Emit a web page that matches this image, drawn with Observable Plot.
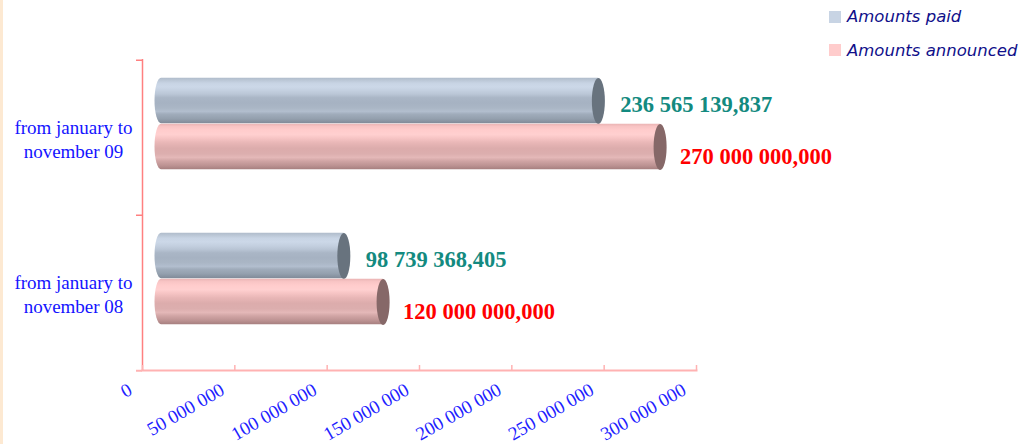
<!DOCTYPE html>
<html><head><meta charset="utf-8">
<script src="https://cdn.jsdelivr.net/npm/d3@7"></script>
<script src="https://cdn.jsdelivr.net/npm/@observablehq/plot@0.6"></script>
<style>
body{margin:0;background:#fff;overflow:hidden}
#wrap{position:relative;width:1024px;height:444px}
#strip{position:absolute;left:0;top:0;width:3px;height:444px;background:#fde9d2}
#legend{position:absolute;left:829px;top:0px;font:italic 16.5px "DejaVu Sans";color:#10108a}
.item{display:flex;align-items:center;height:33.5px}
.sw{width:12px;height:12px;margin-right:6px;flex:none}
#chart{position:absolute;left:0;top:0}
</style></head><body>
<div id="wrap"><div id="strip"></div><div id="chart"></div><div id="legend"></div></div>
<script>
const categories = ["from january to\nnovember 09", "from january to\nnovember 08"];
const seriesNames = ["Amounts paid", "Amounts announced"];
const seriesColors = ["#c8d4e4", "#ffcccc"];
const paid = [236565139.837, 98739368.405];
const announced = [270000000, 120000000];
const paidLabels = ["236 565 139,837", "98 739 368,405"];
const announcedLabels = ["270 000 000,000", "120 000 000,000"];
const xTicks = [0, 50e6, 100e6, 150e6, 200e6, 250e6, 300e6];
const xTickLabels = ["0", "50 000 000", "100 000 000", "150 000 000", "200 000 000", "250 000 000", "300 000 000"];

const paidData = categories.map((c, i) => ({category: c, value: paid[i], label: paidLabels[i]}));
const annData = categories.map((c, i) => ({category: c, value: announced[i], label: announcedLabels[i]}));

const bw = 155.5;
const ellipse = {
  draw(ctx) {
    const rx = 6.5, ry = 23, k = 0.5523;
    ctx.moveTo(rx, 0);
    ctx.bezierCurveTo(rx, ry * k, rx * k, ry, 0, ry);
    ctx.bezierCurveTo(-rx * k, ry, -rx, ry * k, -rx, 0);
    ctx.bezierCurveTo(-rx, -ry * k, -rx * k, -ry, 0, -ry);
    ctx.bezierCurveTo(rx * k, -ry, rx, -ry * k, rx, 0);
    ctx.closePath();
  }
};
const serif = "Liberation Serif";
const axisPink = "#ff8080";
const axisPinkLight = "#ffb2b2";

const plot = Plot.plot({
  width: 1024, height: 444,
  marginLeft: 142, marginRight: 328, marginTop: 59, marginBottom: 74,
  x: {domain: [0, 300e6], axis: null, label: null},
  y: {domain: categories, axis: null, padding: 0, label: null},
  marks: [
    Plot.frame({anchor: "bottom", stroke: axisPinkLight, strokeWidth: 2}),
    Plot.ruleX([0], {stroke: axisPink, strokeWidth: 1.5}),
    Plot.axisY({ticks: categories, tickSize: 6, text: null, label: null, stroke: axisPink, strokeWidth: 1.5, dy: -bw / 2}),
    Plot.axisY({ticks: [categories[1]], tickSize: 6, text: null, label: null, stroke: axisPinkLight, strokeWidth: 2, dy: bw / 2}),
    Plot.axisX({ticks: xTicks, tickSize: 5, text: null, label: null, stroke: axisPinkLight, strokeWidth: 1.5, dy: -5}),
    Plot.text(xTicks, {x: d => d, frameAnchor: "bottom", text: (d, i) => xTickLabels[i], rotate: -30, textAnchor: "end",
      dx: -9, dy: 23, fill: "#1f1fff", fontSize: 19, fontFamily: serif}),
    Plot.text(categories, {y: d => d, frameAnchor: "left", text: d => d, dx: -69, textAnchor: "middle", lineHeight: 1.26,
      fill: "#1414ff", fontSize: 19, fontFamily: serif}),
    Plot.barX(paidData, {x: "value", y: "category", fill: "url(#gPaid)", insetTop: bw / 2 - 46, insetBottom: bw / 2,
      insetLeft: -6.5, insetRight: -6.5, rx: 6.5, ry: 23, dx: 19, dy: -14}),
    Plot.dot(paidData, {x: "value", y: "category", symbol: ellipse, fill: "#68737e", stroke: "none", dx: 19, dy: -37}),
    Plot.barX(annData, {x: "value", y: "category", fill: "url(#gAnn)", insetTop: bw / 2, insetBottom: bw / 2 - 46,
      insetLeft: -6.5, insetRight: -6.5, rx: 6.5, ry: 23, dx: 19, dy: -14}),
    Plot.dot(annData, {x: "value", y: "category", symbol: ellipse, fill: "#866868", stroke: "none", dx: 19, dy: 9}),
    Plot.text(paidData, {x: "value", y: "category", text: "label", textAnchor: "start", dx: 41, dy: -33.5,
      fill: "#138a80", fontSize: 22.5, fontWeight: "bold", fontFamily: serif}),
    Plot.text(annData, {x: "value", y: "category", text: "label", textAnchor: "start", dx: 39, dy: 19,
      fill: "#ff0000", fontSize: 22.5, fontWeight: "bold", fontFamily: serif})
  ]
});

const svg = d3.select(plot);
const defs = svg.insert("defs", ":first-child");
function grad(id, stops) {
  const g = defs.append("linearGradient").attr("id", id).attr("x1", 0).attr("y1", 0).attr("x2", 0).attr("y2", 1);
  stops.forEach(([o, c]) => g.append("stop").attr("offset", o).attr("stop-color", c));
}
grad("gPaid", [[0, "#b0bccb"], [0.06, "#bcc8d7"], [0.12, "#c8d4e4"], [0.2, "#ccd8e8"], [0.28, "#c4d0e0"],
  [0.36, "#bac6d6"], [0.44, "#aab6c6"], [0.55, "#a6b2c2"], [0.66, "#aab6c5"], [0.74, "#b2bece"],
  [0.8, "#a0acbb"], [0.9, "#94a0ae"], [1, "#808a98"]]);
grad("gAnn", [[0, "#eab4b4"], [0.06, "#f8c4c4"], [0.14, "#ffcccc"], [0.24, "#ffd0d0"], [0.32, "#f6c4c4"],
  [0.42, "#e8b6b6"], [0.54, "#dcacac"], [0.66, "#dcaeae"], [0.74, "#e4b8b8"], [0.82, "#d0a4a4"],
  [0.92, "#bc9292"], [1, "#a67f7f"]]);

document.getElementById("chart").appendChild(plot);

const legend = d3.select("#legend");
seriesNames.forEach((n, i) => {
  const it = legend.append("div").attr("class", "item");
  it.append("div").attr("class", "sw").style("background", seriesColors[i]);
  it.append("span").text(n);
});
</script>
</body></html>
